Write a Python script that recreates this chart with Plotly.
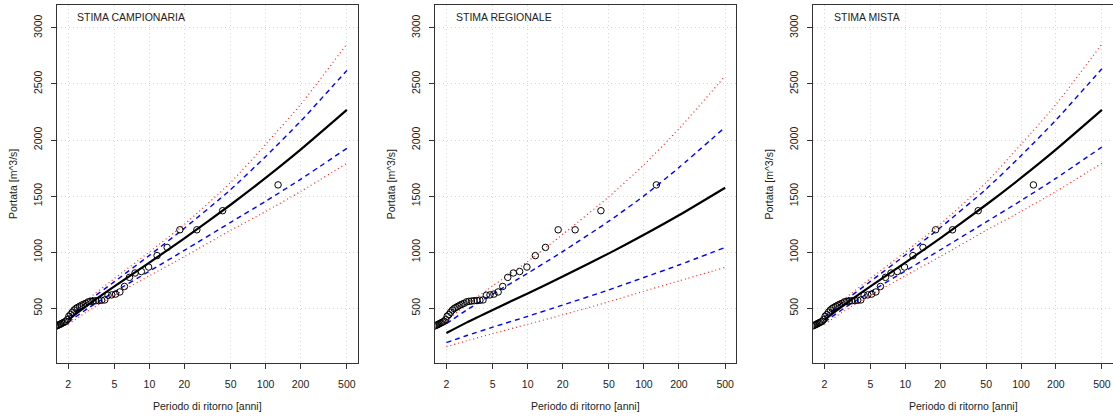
import plotly.graph_objects as go

# ---------------- data ----------------
# observed annual maxima: plotting position T [anni] and discharge [m^3/s]
obs_T = [128.0, 42.67, 25.6, 18.29, 14.22, 11.64, 9.85, 8.53, 7.53, 6.74,
         6.10, 5.57, 5.12, 4.74, 4.41, 4.13, 3.88, 3.66, 3.46, 3.28,
         3.12, 2.98, 2.84, 2.72, 2.61, 2.51, 2.41, 2.33, 2.25, 2.17,
         2.10, 2.03, 1.97, 1.91, 1.86, 1.81, 1.76, 1.72, 1.68, 1.64,
         1.60, 1.56]
obs_Q = [1600, 1370, 1200, 1200, 1043, 970, 868, 828, 815, 776,
         695, 646, 627, 620, 617, 575, 572, 570, 568, 565,
         562, 558, 545, 537, 528, 518, 508, 498, 485, 465,
         445, 430, 400, 385, 378, 372, 366, 360, 355, 350,
         345, 340]

# return periods at which the curves were read
T_grid = [2, 3, 5, 10, 20, 50, 100, 200, 500]

# STIMA CAMPIONARIA
camp_fit = [398, 536, 696, 908, 1124, 1423, 1662, 1914, 2268]
camp_b_up = [420, 567, 738, 972, 1214, 1558, 1853, 2167, 2620]
camp_b_lo = [376, 504, 647, 831, 1017, 1266, 1454, 1650, 1926]
camp_r_up = [434, 587, 766, 1003, 1248, 1622, 1961, 2316, 2855]
camp_r_lo = [358, 479, 616, 790, 961, 1195, 1363, 1541, 1792]

# STIMA REGIONALE
reg_fit = [280, 375, 486, 633, 783, 990, 1155, 1329, 1575]
reg_b_up = [364, 486, 627, 813, 1006, 1277, 1502, 1754, 2114]
reg_b_lo = [194, 258, 332, 429, 529, 665, 775, 886, 1043]
reg_r_up = [392, 533, 700, 918, 1159, 1495, 1779, 2100, 2570]
reg_r_lo = [158, 212, 275, 358, 442, 559, 653, 744, 865]

# STIMA MISTA
mix_fit = [398, 536, 696, 908, 1124, 1423, 1662, 1914, 2268]
mix_b_up = [421, 568, 740, 975, 1218, 1563, 1860, 2177, 2635]
mix_b_lo = [377, 505, 648, 833, 1020, 1270, 1460, 1658, 1938]
mix_r_up = [434, 587, 766, 1003, 1248, 1622, 1961, 2316, 2855]
mix_r_lo = [358, 479, 616, 790, 961, 1195, 1363, 1541, 1792]

panel_titles = ["STIMA CAMPIONARIA", "STIMA REGIONALE", "STIMA MISTA"]
x_ticks = [2, 5, 10, 20, 50, 100, 200, 500]
y_ticks = [500, 1000, 1500, 2000, 2500, 3000]
x_title = "Periodo di ritorno [anni]"
y_title = "Portata [m^3/s]"

panels = [
    (camp_fit, camp_b_up, camp_b_lo, camp_r_up, camp_r_lo),
    (reg_fit, reg_b_up, reg_b_lo, reg_r_up, reg_r_lo),
    (mix_fit, mix_b_up, mix_b_lo, mix_r_up, mix_r_lo),
]

# ---------------- figure ----------------
FONT = "Liberation Sans, Arial, Helvetica, sans-serif"
W, H = 1113, 418
ML, MR, MT, MB = 57, 0, 5, 55
PW = W - ML - MR
box_px = 301
lefts = [57.0, 435.3, 813.3]
domains = []
for lft in lefts:
    d0 = (lft - ML) / PW
    d1 = min(1.0, (lft + box_px - ML) / PW)
    domains.append([d0, d1])

fig = go.Figure()
for k, (fit, bup, blo, rup, rlo) in enumerate(panels):
    xa = "x" if k == 0 else f"x{k+1}"
    ya = "y" if k == 0 else f"y{k+1}"
    red = dict(color="#ff2020", width=1.2, dash="1px,3px")
    blue = dict(color="#0000ff", width=1.4, dash="5px,4px")
    for yv, ln in ((rup, red), (rlo, red), (bup, blue), (blo, blue)):
        fig.add_trace(go.Scatter(x=T_grid, y=yv, mode="lines", line=dict(shape="spline", smoothing=0.6, **ln),
                                 xaxis=xa, yaxis=ya, showlegend=False, hoverinfo="skip"))
    fig.add_trace(go.Scatter(x=T_grid, y=fit, mode="lines",
                             line=dict(color="black", width=2.2, shape="spline", smoothing=0.6),
                             xaxis=xa, yaxis=ya, showlegend=False))
    fig.add_trace(go.Scatter(x=obs_T, y=obs_Q, mode="markers",
                             marker=dict(symbol="circle-open", size=6.5, color="black", line=dict(width=1)),
                             xaxis=xa, yaxis=ya, showlegend=False))

    xkey = "xaxis" if k == 0 else f"xaxis{k+1}"
    ykey = "yaxis" if k == 0 else f"yaxis{k+1}"
    fig.layout[xkey] = dict(
        domain=domains[k], anchor=ya, type="log", range=[0.20511, 2.79489],
        tickvals=x_ticks, ticktext=[str(v) for v in x_ticks],
        ticks="outside", ticklen=5, tickcolor="#333", tickwidth=1,
        showline=True, linecolor="#333", linewidth=1, mirror=True,
        showgrid=True, gridcolor="#d6d6d6", griddash="1px,3px", gridwidth=1,
        zeroline=False, tickfont=dict(family=FONT, size=10.5, color="#222"),
        ticklabelstandoff=6,
    )
    fig.layout[ykey] = dict(
        domain=[0, 1], anchor=xa, range=[13, 3203],
        tickvals=y_ticks, ticktext=[str(v) for v in y_ticks], tickangle=-90,
        ticks="outside", ticklen=5, tickcolor="#333", tickwidth=1,
        showline=True, linecolor="#333", linewidth=1, mirror=True,
        showgrid=True, gridcolor="#d6d6d6", griddash="1px,3px", gridwidth=1,
        zeroline=False, tickfont=dict(family=FONT, size=10.5, color="#222"),
        ticklabelstandoff=5,
    )
    fig.add_annotation(text=panel_titles[k], xref=f"{xa} domain", yref=f"{ya} domain",
                       x=0.061, y=1 - 12 / 358, xanchor="left", yanchor="middle", showarrow=False,
                       font=dict(family=FONT, size=10.5, color="#222"))
    fig.add_annotation(text=x_title, xref=f"{xa} domain", yref=f"{ya} domain",
                       x=0.5, y=-43 / 358, xanchor="center", yanchor="middle", showarrow=False,
                       font=dict(family=FONT, size=10.5, color="#222"))
    fig.add_annotation(text=y_title, xref=f"{xa} domain", yref=f"{ya} domain",
                       x=-44 / box_px, y=0.5, xanchor="center", yanchor="middle", showarrow=False,
                       textangle=-90, font=dict(family=FONT, size=10.5, color="#222"))

fig.update_layout(width=W, height=H, margin=dict(l=ML, r=MR, t=MT, b=MB),
                  paper_bgcolor="white", plot_bgcolor="white",
                  font=dict(family=FONT, size=10.5, color="#222"))
fig.write_html("out.html", config={"displayModeBar": False},
               post_script="document.body.style.margin='0';document.body.style.overflow='hidden';")
